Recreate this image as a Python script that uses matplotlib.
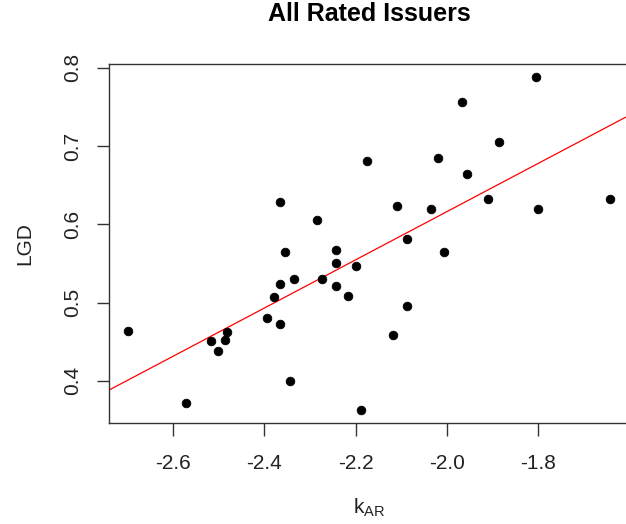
import matplotlib
matplotlib.use("Agg")
import matplotlib.pyplot as plt
import numpy as np

# DATA ########################################################################

k_ar = [-2.698, -2.571, -2.517, -2.502, -2.487, -2.482, -2.395, -2.378,
        -2.365, -2.365, -2.365, -2.354, -2.343, -2.334, -2.285, -2.273,
        -2.242, -2.242, -2.242, -2.216, -2.198, -2.189, -2.175, -2.118,
        -2.109, -2.088, -2.088, -2.034, -2.019, -2.007, -1.967, -1.955,
        -1.909, -1.885, -1.804, -1.801, -1.643]
lgd = [0.464, 0.372, 0.451, 0.438, 0.452, 0.462, 0.480, 0.507,
       0.472, 0.524, 0.628, 0.564, 0.400, 0.530, 0.605, 0.530,
       0.567, 0.551, 0.521, 0.508, 0.547, 0.363, 0.681, 0.458,
       0.624, 0.581, 0.496, 0.620, 0.685, 0.564, 0.757, 0.664,
       0.633, 0.705, 0.788, 0.619, 0.632]

x_ticks = [-2.6, -2.4, -2.2, -2.0, -1.8]
y_ticks = [0.4, 0.5, 0.6, 0.7, 0.8]

# PLOT ########################################################################

plt.rcParams['font.family'] = ['Liberation Sans', 'DejaVu Sans']

fig = plt.figure(figsize=(6.26, 5.24), dpi=100)
ax = fig.add_axes([109 / 626, 1 - 423 / 524, 520 / 626, 359 / 524])

x = np.array(k_ar)
y = np.array(lgd)

# R-style 4% padding on the data range
xr = x.max() - x.min()
yr = y.max() - y.min()
ax.set_xlim(x.min() - 0.04 * xr, x.max() + 0.04 * xr)
ax.set_ylim(y.min() - 0.04 * yr, y.max() + 0.04 * yr)

ax.plot(x, y, 'o', color='black', markersize=6.2, markeredgewidth=0.6, zorder=3)

# least squares line (abline(lm(...)))
slope, intercept = np.polyfit(x, y, 1)
ax.axline((0, intercept), slope=slope, color='red', linewidth=0.9, zorder=2)

for side in ['left', 'top', 'bottom', 'right']:
    ax.spines[side].set_color('#333333')
    ax.spines[side].set_linewidth(1.0)

ax.set_xticks(x_ticks)
ax.set_xticklabels(["%.1f" % v for v in x_ticks])
ax.set_yticks(y_ticks)
ax.set_yticklabels(["%.1f" % v for v in y_ticks], rotation=90, va='center')

ax.tick_params(axis='both', length=9, width=1.0, color='#333333',
               labelsize=15, labelcolor='#222222')
ax.tick_params(axis='x', pad=13)
ax.tick_params(axis='y', pad=10)

ax.set_title("All Rated Issuers", fontsize=18, fontweight='bold', pad=31)

fig.text(25 / 626, 1 - 244 / 524, "LGD", rotation=90, fontsize=15,
         ha='center', va='center', color='#222222')
fig.text(369 / 626, 1 - 508 / 524, r"k$_{\mathregular{AR}}$", fontsize=15,
         ha='center', va='center', color='#222222')

plt.savefig("out.png", dpi=100)
